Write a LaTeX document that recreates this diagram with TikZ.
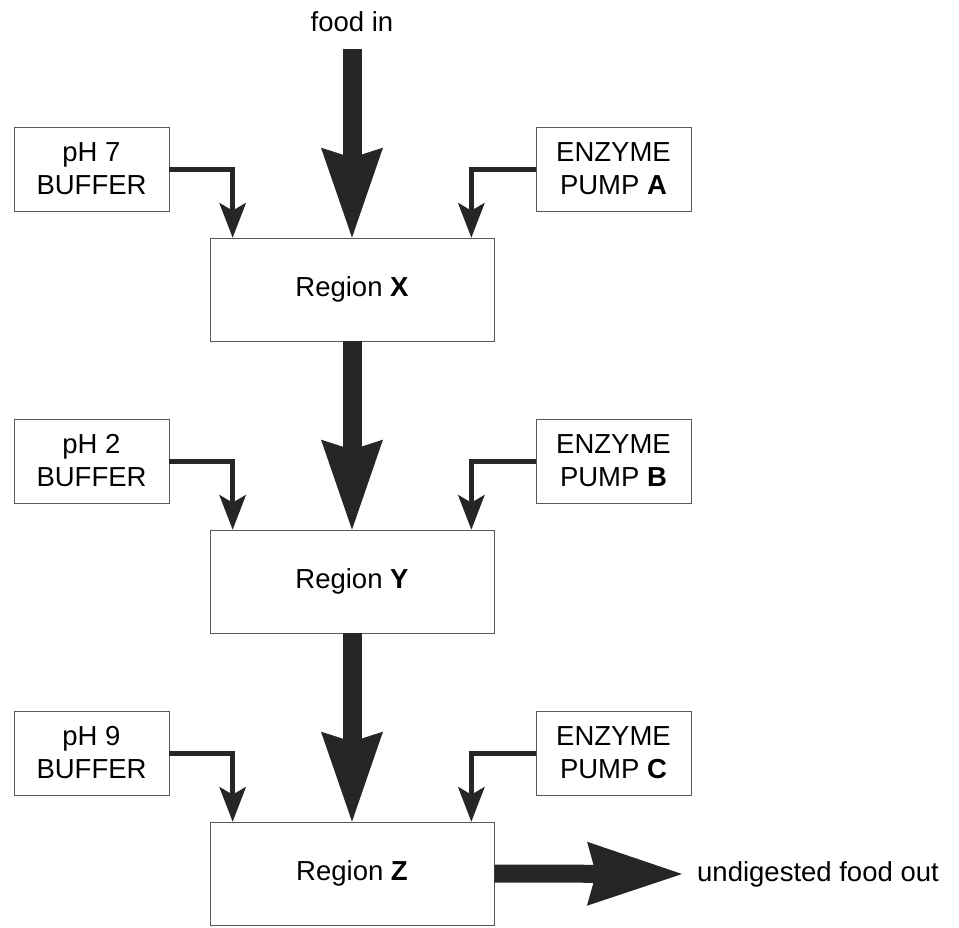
\documentclass[tikz,border=0pt]{standalone}
\usepackage{fontspec}
\setmainfont{Liberation Sans}
\usetikzlibrary{arrows.meta,calc}
\begin{document}
\begin{tikzpicture}[x=1pt,y=-1pt,
  lbl/.style={font=\fontsize{27.5}{33}\selectfont, align=center, inner sep=0pt},
  boxn/.style={lbl, draw=black!65, line width=0.7pt},
  sidebox/.style={boxn, minimum width=155pt, minimum height=84pt},
  regbox/.style={boxn, minimum width=284pt, minimum height=103pt},
  bigarrow/.style={draw=black!85, line width=19pt,
    -{Stealth[length=90pt, width=62pt, inset=10pt, line width=0pt, fill=black!85]}},
  outarrow/.style={draw=black!85, line width=18pt,
    -{Stealth[length=95pt, width=64pt, inset=9pt, line width=0pt, fill=black!85]}},
  smallarrow/.style={draw=black!85, line width=5pt, line join=miter,
    -{Stealth[length=35pt, width=27pt, inset=8pt, line width=0pt, fill=black!85]}},
]
\useasboundingbox (0,0) rectangle (959,927);

% regions
\node[regbox] (X) at (352,289.5) {Region \textbf{X}};
\node[regbox] (Y) at (352,581.5) {Region \textbf{Y}};
\node[regbox] (Z) at (352,873.5) {Region \textbf{Z}};

% buffers
\node[sidebox] (p7) at (91.5,169) {pH 7\\BUFFER};
\node[sidebox] (p2) at (91.5,461) {pH 2\\BUFFER};
\node[sidebox] (p9) at (91.5,753) {pH 9\\BUFFER};

% enzyme pumps
\node[sidebox] (ea) at (613.5,169) {ENZYME\\PUMP \textbf{A}};
\node[sidebox] (eb) at (613.5,461) {ENZYME\\PUMP \textbf{B}};
\node[sidebox] (ec) at (613.5,753) {ENZYME\\PUMP \textbf{C}};

% food in / out labels
\node[lbl] (fi) at (352,22) {food in};
\coordinate (fin) at (352,49);
\node[lbl, anchor=west] (uo) at (697,874) {undigested food out};
\coordinate (fout) at ($(uo.west)+(-15,0)$);

% main flow
\draw[bigarrow] (fin) -- (X.north);
\draw[bigarrow] (X.south) -- (Y.north);
\draw[bigarrow] (Y.south) -- (Z.north);
\draw[outarrow] (Z.east) -- (fout);

% side inputs
\draw[smallarrow] (p7.east) -| ($(X.north west)+(23,0)$);
\draw[smallarrow] (ea.west) -| ($(X.north east)+(-23,0)$);
\draw[smallarrow] (p2.east) -| ($(Y.north west)+(23,0)$);
\draw[smallarrow] (eb.west) -| ($(Y.north east)+(-23,0)$);
\draw[smallarrow] (p9.east) -| ($(Z.north west)+(23,0)$);
\draw[smallarrow] (ec.west) -| ($(Z.north east)+(-23,0)$);
\end{tikzpicture}
\end{document}
